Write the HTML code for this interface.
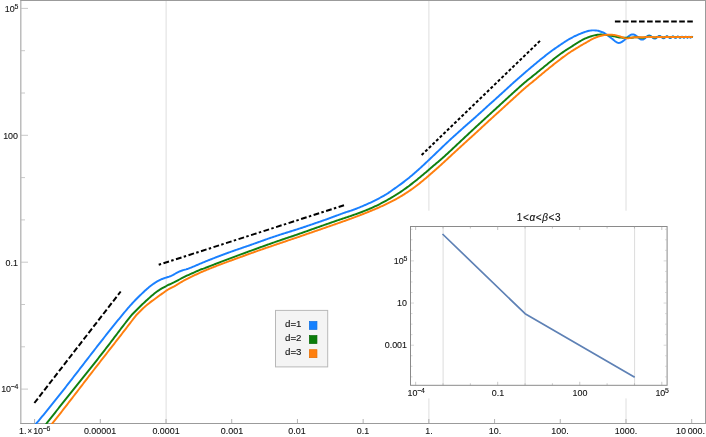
<!DOCTYPE html>
<html><head><meta charset="utf-8"><title>plot</title>
<style>
html,body{margin:0;padding:0;background:#fff;overflow:hidden;width:706px;height:437px;}
#w{position:absolute;left:0;top:0;width:706px;height:437px;overflow:hidden;}
body{width:706px;height:437px;position:relative;overflow:hidden;font-family:"Liberation Sans",sans-serif;color:#111;}
.t{position:absolute;-webkit-text-stroke:0.12px #111;white-space:nowrap;line-height:1;letter-spacing:0;}
.sup{font-size:78%;position:relative;top:-0.46em;margin-left:-0.3px;letter-spacing:-0.4px}
.x{font-size:88%;position:relative;top:-0.02em;margin:0 1.1px 0 1.3px}
i{font-family:"Liberation Sans",sans-serif;font-style:italic;}
</style></head><body><div id="w">
<svg width="706" height="437" viewBox="0 0 706 437" style="position:absolute;left:0;top:0">
<rect x="0" y="0" width="706" height="437" fill="#fff"/>
<line x1="166.1" y1="0" x2="166.1" y2="423" stroke="#dedede" stroke-width="1"/>
<line x1="428.9" y1="0" x2="428.9" y2="423" stroke="#dedede" stroke-width="1"/>
<line x1="626.0" y1="0" x2="626.0" y2="423" stroke="#dedede" stroke-width="1"/>
<line x1="20.85" y1="0" x2="20.85" y2="424" stroke="#9b9b9b" stroke-width="1"/>
<line x1="20.35" y1="423.5" x2="706" y2="423.5" stroke="#9b9b9b" stroke-width="1"/>
<line x1="20.35" y1="0.5" x2="706" y2="0.5" stroke="#9b9b9b" stroke-width="1"/>
<line x1="705.5" y1="0" x2="705.5" y2="424" stroke="#9b9b9b" stroke-width="1"/>
<line x1="21.3" y1="389.10" x2="28" y2="389.10" stroke="#9b9b9b" stroke-width="0.55"/>
<line x1="21.3" y1="346.80" x2="25" y2="346.80" stroke="#9b9b9b" stroke-width="0.55"/>
<line x1="21.3" y1="304.50" x2="25" y2="304.50" stroke="#9b9b9b" stroke-width="0.55"/>
<line x1="21.3" y1="262.20" x2="28" y2="262.20" stroke="#9b9b9b" stroke-width="0.55"/>
<line x1="21.3" y1="219.90" x2="25" y2="219.90" stroke="#9b9b9b" stroke-width="0.55"/>
<line x1="21.3" y1="177.60" x2="25" y2="177.60" stroke="#9b9b9b" stroke-width="0.55"/>
<line x1="21.3" y1="135.30" x2="28" y2="135.30" stroke="#9b9b9b" stroke-width="0.55"/>
<line x1="21.3" y1="93.00" x2="25" y2="93.00" stroke="#9b9b9b" stroke-width="0.55"/>
<line x1="21.3" y1="50.70" x2="25" y2="50.70" stroke="#9b9b9b" stroke-width="0.55"/>
<line x1="21.3" y1="8.40" x2="28" y2="8.40" stroke="#9b9b9b" stroke-width="0.55"/>
<line x1="34.60" y1="423" x2="34.60" y2="419" stroke="#909090" stroke-width="0.7"/>
<line x1="100.31" y1="423" x2="100.31" y2="419" stroke="#909090" stroke-width="0.7"/>
<line x1="166.02" y1="423" x2="166.02" y2="419" stroke="#909090" stroke-width="0.7"/>
<line x1="231.73" y1="423" x2="231.73" y2="419" stroke="#909090" stroke-width="0.7"/>
<line x1="297.44" y1="423" x2="297.44" y2="419" stroke="#909090" stroke-width="0.7"/>
<line x1="363.15" y1="423" x2="363.15" y2="419" stroke="#909090" stroke-width="0.7"/>
<line x1="428.86" y1="423" x2="428.86" y2="419" stroke="#909090" stroke-width="0.7"/>
<line x1="494.57" y1="423" x2="494.57" y2="419" stroke="#909090" stroke-width="0.7"/>
<line x1="560.28" y1="423" x2="560.28" y2="419" stroke="#909090" stroke-width="0.7"/>
<line x1="625.99" y1="423" x2="625.99" y2="419" stroke="#909090" stroke-width="0.7"/>
<line x1="691.70" y1="423" x2="691.70" y2="419" stroke="#909090" stroke-width="0.7"/>
<clipPath id="c"><rect x="21" y="0" width="684" height="424"/></clipPath>
<g clip-path="url(#c)" fill="none" stroke-linejoin="round">
<path d="M35.15,424.82 L36.15,423.65 L37.15,422.47 L38.15,421.28 L39.15,420.09 L40.15,418.89 L41.15,417.69 L42.15,416.49 L43.15,415.28 L44.15,414.07 L45.15,412.85 L46.15,411.63 L47.15,410.40 L48.15,409.17 L49.15,407.94 L50.15,406.70 L51.15,405.46 L52.15,404.22 L53.15,402.97 L54.15,401.72 L55.15,400.47 L56.15,399.21 L57.15,397.95 L58.15,396.69 L59.15,395.42 L60.15,394.15 L61.15,392.88 L62.15,391.61 L63.15,390.34 L64.15,389.06 L65.15,387.78 L66.15,386.50 L67.15,385.22 L68.15,383.94 L69.15,382.65 L70.15,381.36 L71.15,380.07 L72.15,378.78 L73.15,377.49 L74.15,376.20 L75.15,374.91 L76.15,373.61 L77.15,372.32 L78.15,371.03 L79.15,369.73 L80.15,368.43 L81.15,367.14 L82.15,365.84 L83.15,364.55 L84.15,363.25 L85.15,361.95 L86.15,360.66 L87.15,359.36 L88.15,358.07 L89.15,356.77 L90.15,355.48 L91.15,354.19 L92.15,352.89 L93.15,351.60 L94.15,350.31 L95.15,349.02 L96.15,347.74 L97.15,346.45 L98.15,345.17 L99.15,343.89 L100.15,342.61 L101.15,341.33 L102.15,340.05 L103.15,338.78 L104.15,337.50 L105.15,336.23 L106.15,334.97 L107.15,333.70 L108.15,332.44 L109.15,331.18 L110.15,329.92 L111.15,328.67 L112.15,327.42 L113.15,326.17 L114.15,324.93 L115.15,323.69 L116.15,322.45 L117.15,321.22 L118.15,319.99 L119.15,318.77 L120.15,317.54 L121.15,316.33 L122.15,315.11 L123.15,313.91 L124.15,312.70 L125.15,311.50 L126.15,310.31 L127.15,309.12 L128.15,307.94 L129.15,306.82 L130.15,305.71 L131.15,304.61 L132.15,303.52 L133.15,302.43 L134.15,301.36 L135.15,300.29 L136.15,299.24 L137.15,298.20 L138.15,297.19 L139.15,296.22 L140.15,295.27 L141.15,294.34 L142.15,293.41 L143.15,292.47 L144.15,291.52 L145.15,290.58 L146.15,289.66 L147.15,288.76 L148.15,287.90 L149.15,287.08 L150.15,286.30 L151.15,285.55 L152.15,284.81 L153.15,284.08 L154.15,283.37 L155.15,282.68 L156.15,282.04 L157.15,281.45 L158.15,280.92 L159.15,280.40 L160.15,279.90 L161.15,279.43 L162.15,278.98 L163.15,278.58 L164.15,278.22 L165.15,277.90 L166.15,277.60 L167.15,277.29 L168.15,276.97 L169.15,276.63 L170.15,276.24 L171.15,275.81 L172.15,275.35 L173.15,274.84 L174.15,274.30 L175.15,273.76 L176.15,273.22 L177.15,272.68 L178.15,272.17 L179.15,271.68 L180.15,271.23 L181.15,270.82 L182.15,270.46 L183.15,270.15 L184.15,269.88 L185.15,269.62 L186.15,269.34 L187.15,269.03 L188.15,268.70 L189.15,268.33 L190.15,267.95 L191.15,267.55 L192.15,267.14 L193.15,266.72 L194.15,266.29 L195.15,265.85 L196.15,265.41 L197.15,264.98 L198.15,264.55 L199.15,264.12 L200.15,263.70 L201.15,263.28 L202.15,262.86 L203.15,262.45 L204.15,262.04 L205.15,261.63 L206.15,261.22 L207.15,260.82 L208.15,260.42 L209.15,260.02 L210.15,259.62 L211.15,259.23 L212.15,258.83 L213.15,258.44 L214.15,258.05 L215.15,257.67 L216.15,257.28 L217.15,256.90 L218.15,256.51 L219.15,256.13 L220.15,255.75 L221.15,255.38 L222.15,255.00 L223.15,254.63 L224.15,254.25 L225.15,253.88 L226.15,253.51 L227.15,253.14 L228.15,252.78 L229.15,252.41 L230.15,252.05 L231.15,251.69 L232.15,251.34 L233.15,250.99 L234.15,250.64 L235.15,250.29 L236.15,249.94 L237.15,249.59 L238.15,249.25 L239.15,248.91 L240.15,248.56 L241.15,248.22 L242.15,247.88 L243.15,247.54 L244.15,247.19 L245.15,246.85 L246.15,246.51 L247.15,246.16 L248.15,245.82 L249.15,245.47 L250.15,245.12 L251.15,244.77 L252.15,244.41 L253.15,244.06 L254.15,243.70 L255.15,243.34 L256.15,242.98 L257.15,242.62 L258.15,242.26 L259.15,241.91 L260.15,241.55 L261.15,241.19 L262.15,240.83 L263.15,240.47 L264.15,240.12 L265.15,239.76 L266.15,239.41 L267.15,239.05 L268.15,238.70 L269.15,238.35 L270.15,238.00 L271.15,237.66 L272.15,237.32 L273.15,236.98 L274.15,236.64 L275.15,236.30 L276.15,235.97 L277.15,235.64 L278.15,235.32 L279.15,234.99 L280.15,234.67 L281.15,234.35 L282.15,234.03 L283.15,233.71 L284.15,233.40 L285.15,233.09 L286.15,232.77 L287.15,232.46 L288.15,232.15 L289.15,231.84 L290.15,231.52 L291.15,231.21 L292.15,230.90 L293.15,230.59 L294.15,230.28 L295.15,229.96 L296.15,229.65 L297.15,229.33 L298.15,229.01 L299.15,228.69 L300.15,228.36 L301.15,228.04 L302.15,227.71 L303.15,227.38 L304.15,227.04 L305.15,226.71 L306.15,226.37 L307.15,226.03 L308.15,225.69 L309.15,225.35 L310.15,225.00 L311.15,224.66 L312.15,224.32 L313.15,223.97 L314.15,223.63 L315.15,223.29 L316.15,222.94 L317.15,222.60 L318.15,222.25 L319.15,221.91 L320.15,221.57 L321.15,221.23 L322.15,220.88 L323.15,220.53 L324.15,220.18 L325.15,219.82 L326.15,219.46 L327.15,219.10 L328.15,218.73 L329.15,218.37 L330.15,218.00 L331.15,217.63 L332.15,217.27 L333.15,216.89 L334.15,216.52 L335.15,216.15 L336.15,215.78 L337.15,215.41 L338.15,215.04 L339.15,214.67 L340.15,214.30 L341.15,213.93 L342.15,213.56 L343.15,213.20 L344.15,212.83 L345.15,212.48 L346.15,212.15 L347.15,211.83 L348.15,211.52 L349.15,211.21 L350.15,210.89 L351.15,210.56 L352.15,210.21 L353.15,209.85 L354.15,209.48 L355.15,209.10 L356.15,208.72 L357.15,208.33 L358.15,207.94 L359.15,207.54 L360.15,207.14 L361.15,206.72 L362.15,206.31 L363.15,205.88 L364.15,205.45 L365.15,205.02 L366.15,204.58 L367.15,204.13 L368.15,203.68 L369.15,203.23 L370.15,202.76 L371.15,202.29 L372.15,201.82 L373.15,201.34 L374.15,200.85 L375.15,200.35 L376.15,199.85 L377.15,199.34 L378.15,198.82 L379.15,198.29 L380.15,197.75 L381.15,197.21 L382.15,196.66 L383.15,196.10 L384.15,195.53 L385.15,194.95 L386.15,194.36 L387.15,193.73 L388.15,193.08 L389.15,192.39 L390.15,191.69 L391.15,190.97 L392.15,190.25 L393.15,189.54 L394.15,188.84 L395.15,188.15 L396.15,187.45 L397.15,186.75 L398.15,186.03 L399.15,185.31 L400.15,184.59 L401.15,183.85 L402.15,183.11 L403.15,182.36 L404.15,181.60 L405.15,180.83 L406.15,180.05 L407.15,179.26 L408.15,178.46 L409.15,177.65 L410.15,176.84 L411.15,176.01 L412.15,175.17 L413.15,174.32 L414.15,173.46 L415.15,172.59 L416.15,171.71 L417.15,170.82 L418.15,169.92 L419.15,169.02 L420.15,168.11 L421.15,167.19 L422.15,166.27 L423.15,165.35 L424.15,164.42 L425.15,163.48 L426.15,162.54 L427.15,161.60 L428.15,160.66 L429.15,159.71 L430.15,158.76 L431.15,157.81 L432.15,156.86 L433.15,155.90 L434.15,154.94 L435.15,153.98 L436.15,153.02 L437.15,152.06 L438.15,151.10 L439.15,150.14 L440.15,149.18 L441.15,148.22 L442.15,147.26 L443.15,146.31 L444.15,145.36 L445.15,144.41 L446.15,143.47 L447.15,142.52 L448.15,141.59 L449.15,140.65 L450.15,139.73 L451.15,138.80 L452.15,137.89 L453.15,136.97 L454.15,136.06 L455.15,135.16 L456.15,134.25 L457.15,133.35 L458.15,132.45 L459.15,131.55 L460.15,130.66 L461.15,129.77 L462.15,128.88 L463.15,127.99 L464.15,127.10 L465.15,126.21 L466.15,125.33 L467.15,124.44 L468.15,123.56 L469.15,122.68 L470.15,121.80 L471.15,120.92 L472.15,120.04 L473.15,119.16 L474.15,118.28 L475.15,117.40 L476.15,116.52 L477.15,115.63 L478.15,114.73 L479.15,113.83 L480.15,112.92 L481.15,112.01 L482.15,111.10 L483.15,110.18 L484.15,109.26 L485.15,108.35 L486.15,107.43 L487.15,106.53 L488.15,105.62 L489.15,104.73 L490.15,103.84 L491.15,102.95 L492.15,102.06 L493.15,101.16 L494.15,100.27 L495.15,99.37 L496.15,98.47 L497.15,97.57 L498.15,96.66 L499.15,95.75 L500.15,94.84 L501.15,93.93 L502.15,93.02 L503.15,92.11 L504.15,91.19 L505.15,90.28 L506.15,89.36 L507.15,88.45 L508.15,87.53 L509.15,86.61 L510.15,85.69 L511.15,84.78 L512.15,83.87 L513.15,82.97 L514.15,82.07 L515.15,81.18 L516.15,80.29 L517.15,79.40 L518.15,78.52 L519.15,77.65 L520.15,76.77 L521.15,75.90 L522.15,75.04 L523.15,74.17 L524.15,73.31 L525.15,72.45 L526.15,71.59 L527.15,70.73 L528.15,69.88 L529.15,69.02 L530.15,68.17 L531.15,67.32 L532.15,66.47 L533.15,65.63 L534.15,64.79 L535.15,63.96 L536.15,63.13 L537.15,62.30 L538.15,61.48 L539.15,60.66 L540.15,59.85 L541.15,59.05 L542.15,58.25 L543.15,57.45 L544.15,56.66 L545.15,55.87 L546.15,55.09 L547.15,54.32 L548.15,53.55 L549.15,52.79 L550.15,52.03 L551.15,51.29 L552.15,50.55 L553.15,49.83 L554.15,49.11 L555.15,48.40 L556.15,47.70 L557.15,47.00 L558.15,46.32 L559.15,45.64 L560.15,44.96 L561.15,44.29 L562.15,43.62 L563.15,42.96 L564.15,42.30 L565.15,41.65 L566.15,41.02 L567.15,40.40 L568.15,39.79 L569.15,39.20 L570.15,38.62 L571.15,38.06 L572.15,37.52 L573.15,37.00 L574.15,36.49 L575.15,36.00 L576.15,35.53 L577.15,35.08 L578.15,34.65 L579.15,34.22 L580.15,33.79 L581.15,33.37 L582.15,32.97 L583.15,32.59 L584.15,32.24 L585.15,31.91 L586.15,31.60 L587.15,31.31 L588.15,31.04 L589.15,30.81 L590.15,30.61 L591.15,30.47 L592.15,30.38 L593.15,30.36 L594.15,30.38 L595.15,30.43 L596.15,30.52 L597.15,30.64 L598.10,30.76 L603.80,32.71 L604.05,32.87 L604.30,33.03 L604.55,33.19 L604.80,33.36 L605.05,33.53 L605.30,33.71 L605.55,33.89 L605.80,34.07 L606.05,34.24 L606.30,34.42 L606.55,34.59 L606.80,34.77 L607.05,34.94 L607.30,35.12 L607.55,35.30 L607.80,35.48 L608.05,35.67 L608.30,35.86 L608.55,36.05 L608.80,36.25 L609.05,36.44 L609.30,36.63 L609.55,36.82 L609.80,37.01 L610.05,37.20 L610.30,37.38 L610.55,37.57 L610.80,37.75 L611.05,37.94 L611.30,38.12 L611.55,38.30 L611.80,38.49 L612.05,38.67 L612.30,38.87 L612.55,39.07 L612.80,39.28 L613.05,39.49 L613.30,39.71 L613.55,39.93 L613.80,40.15 L614.05,40.37 L614.30,40.58 L614.55,40.78 L614.80,40.98 L615.05,41.17 L615.30,41.35 L615.55,41.51 L615.80,41.68 L616.05,41.84 L616.30,41.99 L616.55,42.15 L616.80,42.29 L617.05,42.43 L617.30,42.56 L617.55,42.67 L617.80,42.76 L618.05,42.84 L618.30,42.90 L618.55,42.93 L618.80,42.94 L619.05,42.93 L619.30,42.89 L619.55,42.85 L619.80,42.79 L620.05,42.71 L620.30,42.63 L620.55,42.53 L620.80,42.43 L621.05,42.31 L621.30,42.18 L621.55,42.04 L621.80,41.89 L622.05,41.74 L622.30,41.57 L622.55,41.40 L622.80,41.23 L623.05,41.04 L623.30,40.85 L623.55,40.66 L623.80,40.46 L624.05,40.26 L624.30,40.06 L624.55,39.85 L624.80,39.63 L625.05,39.42 L625.30,39.20 L625.55,38.97 L625.80,38.75 L626.05,38.52 L626.30,38.29 L626.55,38.06 L626.80,37.83 L627.05,37.60 L627.30,37.38 L627.55,37.16 L627.80,36.94 L628.05,36.72 L628.30,36.51 L628.55,36.31 L628.80,36.11 L629.05,35.92 L629.30,35.74 L629.55,35.56 L629.80,35.40 L630.05,35.24 L630.30,35.10 L630.55,34.97 L630.80,34.85 L631.05,34.74 L631.30,34.65 L631.55,34.57 L631.80,34.51 L632.05,34.46 L632.30,34.42 L632.55,34.40 L632.80,34.40 L633.05,34.41 L633.30,34.44 L633.55,34.48 L633.80,34.54 L634.05,34.62 L634.30,34.71 L634.55,34.81 L634.80,34.93 L635.05,35.07 L635.30,35.21 L635.55,35.37 L635.80,35.55 L636.05,35.73 L636.30,35.92 L636.55,36.12 L636.80,36.33 L637.05,36.54 L637.30,36.76 L637.55,36.98 L637.80,37.20 L638.05,37.42 L638.30,37.64 L638.55,37.86 L638.80,38.07 L639.05,38.27 L639.30,38.47 L639.55,38.65 L639.80,38.83 L640.05,38.99 L640.30,39.13 L640.55,39.26 L640.80,39.38 L641.05,39.47 L641.30,39.55 L641.55,39.60 L641.80,39.63 L642.05,39.64 L642.30,39.63 L642.55,39.60 L642.80,39.54 L643.05,39.47 L643.30,39.37 L643.55,39.25 L643.80,39.11 L644.05,38.95 L644.30,38.78 L644.55,38.59 L644.80,38.39 L645.05,38.18 L645.30,37.96 L645.55,37.74 L645.80,37.51 L646.05,37.28 L646.30,37.05 L646.55,36.83 L646.80,36.62 L647.05,36.42 L647.30,36.23 L647.55,36.06 L647.80,35.91 L648.05,35.78 L648.30,35.68 L648.55,35.60 L648.80,35.54 L649.05,35.51 L649.30,35.51 L649.55,35.54 L649.80,35.60 L650.05,35.68 L650.30,35.79 L650.55,35.93 L650.80,36.08 L651.05,36.26 L651.30,36.45 L651.55,36.65 L651.80,36.86 L652.05,37.08 L652.30,37.31 L652.55,37.52 L652.80,37.74 L653.05,37.93 L653.30,38.11 L653.55,38.27 L653.80,38.41 L654.05,38.51 L654.30,38.59 L654.55,38.63 L654.80,38.64 L655.05,38.62 L655.30,38.56 L655.55,38.47 L655.80,38.34 L656.05,38.19 L656.30,38.02 L656.55,37.82 L656.80,37.61 L657.05,37.39 L657.30,37.17 L657.55,36.95 L657.80,36.74 L658.05,36.54 L658.30,36.37 L658.55,36.22 L658.80,36.10 L659.05,36.02 L659.30,35.98 L659.55,35.98 L659.80,36.02 L660.05,36.09 L660.30,36.21 L660.55,36.36 L660.80,36.54 L661.05,36.74 L661.30,36.95 L661.55,37.17 L661.80,37.39 L662.05,37.61 L662.30,37.80 L662.55,37.97 L662.80,38.10 L663.05,38.20 L663.30,38.25 L663.55,38.26 L663.80,38.22 L664.05,38.14 L664.30,38.01 L664.55,37.85 L664.80,37.66 L665.05,37.45 L665.30,37.23 L665.55,37.00 L665.80,36.79 L666.05,36.61 L666.30,36.45 L666.55,36.34 L666.80,36.27 L667.05,36.26 L667.30,36.30 L667.55,36.39 L667.80,36.52 L668.05,36.70 L668.30,36.90 L668.55,37.12 L668.80,37.34 L669.05,37.55 L669.30,37.74 L669.55,37.89 L669.80,37.99 L670.05,38.04 L670.30,38.03 L670.55,37.96 L670.80,37.84 L671.05,37.67 L671.30,37.47 L671.55,37.25 L671.80,37.03 L672.05,36.83 L672.30,36.65 L672.55,36.52 L672.80,36.45 L673.05,36.44 L673.30,36.50 L673.55,36.61 L673.80,36.78 L674.05,36.98 L674.30,37.20 L674.55,37.42 L674.80,37.62 L675.05,37.77 L675.30,37.87 L675.55,37.90 L675.80,37.86 L676.05,37.75 L676.30,37.59 L676.55,37.38 L676.80,37.16 L677.05,36.95 L677.30,36.76 L677.55,36.63 L677.80,36.56 L678.05,36.57 L678.30,36.66 L678.55,36.81 L678.80,37.01 L679.05,37.23 L679.30,37.44 L679.55,37.62 L679.80,37.75 L680.05,37.80 L680.30,37.76 L680.55,37.65 L680.80,37.47 L681.05,37.26 L681.30,37.04 L681.55,36.84 L681.80,36.71 L682.05,36.65 L682.30,36.67 L682.55,36.79 L682.80,36.97 L683.05,37.18 L683.30,37.40 L683.55,37.58 L683.80,37.69 L684.05,37.72 L684.30,37.65 L684.55,37.49 L684.80,37.29 L685.05,37.07 L685.30,36.87 L685.55,36.75 L685.80,36.71 L686.05,36.78 L686.30,36.93 L686.55,37.14 L686.80,37.36 L687.05,37.54 L687.30,37.65 L687.55,37.65 L687.80,37.55 L688.05,37.36 L688.30,37.14 L688.55,36.94 L688.80,36.80 L689.05,36.77 L689.30,36.84 L689.55,37.01 L689.80,37.23 L690.05,37.43 L690.30,37.58 L690.55,37.61 L690.80,37.53 L691.05,37.35 L691.30,37.13 L691.55,36.94 L691.80,36.82 L692.05,36.82 L692.30,36.94 L692.55,37.15 L692.80,37.36" stroke="#1a80ff" stroke-width="1.95"/>
<path d="M45.35,425.01 L46.35,423.73 L47.35,422.45 L48.35,421.17 L49.35,419.89 L50.35,418.62 L51.35,417.35 L52.35,416.08 L53.35,414.81 L54.35,413.54 L55.35,412.28 L56.35,411.01 L57.35,409.75 L58.35,408.49 L59.35,407.23 L60.35,405.98 L61.35,404.72 L62.35,403.47 L63.35,402.21 L64.35,400.96 L65.35,399.71 L66.35,398.46 L67.35,397.20 L68.35,395.95 L69.35,394.70 L70.35,393.46 L71.35,392.21 L72.35,390.96 L73.35,389.71 L74.35,388.46 L75.35,387.21 L76.35,385.96 L77.35,384.71 L78.35,383.46 L79.35,382.21 L80.35,380.96 L81.35,379.71 L82.35,378.46 L83.35,377.21 L84.35,375.95 L85.35,374.70 L86.35,373.44 L87.35,372.18 L88.35,370.93 L89.35,369.67 L90.35,368.41 L91.35,367.14 L92.35,365.88 L93.35,364.61 L94.35,363.34 L95.35,362.07 L96.35,360.80 L97.35,359.53 L98.35,358.25 L99.35,356.97 L100.35,355.69 L101.35,354.41 L102.35,353.12 L103.35,351.84 L104.35,350.54 L105.35,349.25 L106.35,347.95 L107.35,346.65 L108.35,345.35 L109.35,344.04 L110.35,342.73 L111.35,341.42 L112.35,340.11 L113.35,338.79 L114.35,337.46 L115.35,336.14 L116.35,334.81 L117.35,333.49 L118.35,332.16 L119.35,330.84 L120.35,329.52 L121.35,328.20 L122.35,326.89 L123.35,325.58 L124.35,324.28 L125.35,322.99 L126.35,321.70 L127.35,320.42 L128.35,319.15 L129.35,317.89 L130.35,316.65 L131.35,315.41 L132.35,314.26 L133.35,313.25 L134.35,312.24 L135.35,311.23 L136.35,310.23 L137.35,309.24 L138.35,308.24 L139.35,307.26 L140.35,306.27 L141.35,305.29 L142.35,304.32 L143.35,303.36 L144.35,302.43 L145.35,301.51 L146.35,300.59 L147.35,299.68 L148.35,298.77 L149.35,297.87 L150.35,296.97 L151.35,296.10 L152.35,295.24 L153.35,294.41 L154.35,293.61 L155.35,292.84 L156.35,292.07 L157.35,291.33 L158.35,290.62 L159.35,289.94 L160.35,289.30 L161.35,288.71 L162.35,288.14 L163.35,287.59 L164.35,287.05 L165.35,286.52 L166.35,286.00 L167.35,285.48 L168.35,284.98 L169.35,284.50 L170.35,284.05 L171.35,283.61 L172.35,283.17 L173.35,282.71 L174.35,282.23 L175.35,281.71 L176.35,281.17 L177.35,280.62 L178.35,280.07 L179.35,279.52 L180.35,278.99 L181.35,278.47 L182.35,277.95 L183.35,277.44 L184.35,276.93 L185.35,276.43 L186.35,275.95 L187.35,275.48 L188.35,275.02 L189.35,274.57 L190.35,274.13 L191.35,273.69 L192.35,273.25 L193.35,272.81 L194.35,272.37 L195.35,271.92 L196.35,271.46 L197.35,271.00 L198.35,270.54 L199.35,270.09 L200.35,269.65 L201.35,269.24 L202.35,268.94 L203.35,268.67 L204.35,268.30 L205.35,267.91 L206.35,267.52 L207.35,267.12 L208.35,266.73 L209.35,266.34 L210.35,265.95 L211.35,265.56 L212.35,265.17 L213.35,264.79 L214.35,264.40 L215.35,264.01 L216.35,263.63 L217.35,263.24 L218.35,262.86 L219.35,262.48 L220.35,262.09 L221.35,261.71 L222.35,261.33 L223.35,260.95 L224.35,260.57 L225.35,260.19 L226.35,259.81 L227.35,259.44 L228.35,259.06 L229.35,258.68 L230.35,258.31 L231.35,257.93 L232.35,257.56 L233.35,257.18 L234.35,256.81 L235.35,256.44 L236.35,256.07 L237.35,255.69 L238.35,255.32 L239.35,254.95 L240.35,254.58 L241.35,254.21 L242.35,253.84 L243.35,253.48 L244.35,253.11 L245.35,252.74 L246.35,252.37 L247.35,252.01 L248.35,251.64 L249.35,251.28 L250.35,250.91 L251.35,250.55 L252.35,250.18 L253.35,249.82 L254.35,249.46 L255.35,249.10 L256.35,248.73 L257.35,248.37 L258.35,248.01 L259.35,247.65 L260.35,247.29 L261.35,246.93 L262.35,246.58 L263.35,246.22 L264.35,245.86 L265.35,245.50 L266.35,245.15 L267.35,244.79 L268.35,244.43 L269.35,244.08 L270.35,243.72 L271.35,243.36 L272.35,243.01 L273.35,242.65 L274.35,242.30 L275.35,241.95 L276.35,241.59 L277.35,241.25 L278.35,240.90 L279.35,240.56 L280.35,240.22 L281.35,239.88 L282.35,239.54 L283.35,239.21 L284.35,238.87 L285.35,238.54 L286.35,238.20 L287.35,237.87 L288.35,237.54 L289.35,237.20 L290.35,236.87 L291.35,236.53 L292.35,236.20 L293.35,235.86 L294.35,235.52 L295.35,235.18 L296.35,234.83 L297.35,234.48 L298.35,234.13 L299.35,233.78 L300.35,233.43 L301.35,233.08 L302.35,232.73 L303.35,232.37 L304.35,232.02 L305.35,231.67 L306.35,231.31 L307.35,230.96 L308.35,230.61 L309.35,230.25 L310.35,229.90 L311.35,229.54 L312.35,229.19 L313.35,228.83 L314.35,228.48 L315.35,228.13 L316.35,227.77 L317.35,227.42 L318.35,227.07 L319.35,226.71 L320.35,226.36 L321.35,226.01 L322.35,225.65 L323.35,225.30 L324.35,224.95 L325.35,224.60 L326.35,224.25 L327.35,223.90 L328.35,223.55 L329.35,223.21 L330.35,222.86 L331.35,222.51 L332.35,222.17 L333.35,221.82 L334.35,221.48 L335.35,221.14 L336.35,220.79 L337.35,220.45 L338.35,220.11 L339.35,219.77 L340.35,219.44 L341.35,219.10 L342.35,218.77 L343.35,218.43 L344.35,218.10 L345.35,217.77 L346.35,217.43 L347.35,217.09 L348.35,216.75 L349.35,216.41 L350.35,216.07 L351.35,215.72 L352.35,215.38 L353.35,215.03 L354.35,214.68 L355.35,214.32 L356.35,213.97 L357.35,213.61 L358.35,213.24 L359.35,212.87 L360.35,212.50 L361.35,212.12 L362.35,211.74 L363.35,211.35 L364.35,210.96 L365.35,210.56 L366.35,210.16 L367.35,209.75 L368.35,209.34 L369.35,208.92 L370.35,208.49 L371.35,208.06 L372.35,207.62 L373.35,207.17 L374.35,206.71 L375.35,206.24 L376.35,205.76 L377.35,205.27 L378.35,204.77 L379.35,204.27 L380.35,203.75 L381.35,203.23 L382.35,202.71 L383.35,202.17 L384.35,201.63 L385.35,201.09 L386.35,200.54 L387.35,199.98 L388.35,199.43 L389.35,198.86 L390.35,198.29 L391.35,197.71 L392.35,197.12 L393.35,196.52 L394.35,195.91 L395.35,195.29 L396.35,194.67 L397.35,194.04 L398.35,193.39 L399.35,192.74 L400.35,192.07 L401.35,191.40 L402.35,190.72 L403.35,190.02 L404.35,189.32 L405.35,188.60 L406.35,187.88 L407.35,187.15 L408.35,186.41 L409.35,185.66 L410.35,184.90 L411.35,184.14 L412.35,183.36 L413.35,182.58 L414.35,181.80 L415.35,181.00 L416.35,180.20 L417.35,179.40 L418.35,178.59 L419.35,177.77 L420.35,176.94 L421.35,176.11 L422.35,175.28 L423.35,174.44 L424.35,173.60 L425.35,172.75 L426.35,171.90 L427.35,171.04 L428.35,170.18 L429.35,169.32 L430.35,168.45 L431.35,167.58 L432.35,166.71 L433.35,165.84 L434.35,164.99 L435.35,164.15 L436.35,163.30 L437.35,162.47 L438.35,161.63 L439.35,160.78 L440.35,159.93 L441.35,159.08 L442.35,158.21 L443.35,157.32 L444.35,156.42 L445.35,155.51 L446.35,154.58 L447.35,153.66 L448.35,152.73 L449.35,151.80 L450.35,150.87 L451.35,149.94 L452.35,149.01 L453.35,148.07 L454.35,147.14 L455.35,146.20 L456.35,145.26 L457.35,144.33 L458.35,143.39 L459.35,142.45 L460.35,141.51 L461.35,140.58 L462.35,139.64 L463.35,138.70 L464.35,137.76 L465.35,136.82 L466.35,135.88 L467.35,134.95 L468.35,134.01 L469.35,133.07 L470.35,132.14 L471.35,131.20 L472.35,130.27 L473.35,129.34 L474.35,128.41 L475.35,127.48 L476.35,126.55 L477.35,125.63 L478.35,124.70 L479.35,123.78 L480.35,122.86 L481.35,121.94 L482.35,121.02 L483.35,120.10 L484.35,119.19 L485.35,118.27 L486.35,117.36 L487.35,116.45 L488.35,115.54 L489.35,114.63 L490.35,113.72 L491.35,112.81 L492.35,111.90 L493.35,110.99 L494.35,110.08 L495.35,109.16 L496.35,108.24 L497.35,107.33 L498.35,106.41 L499.35,105.49 L500.35,104.57 L501.35,103.64 L502.35,102.72 L503.35,101.80 L504.35,100.88 L505.35,99.96 L506.35,99.04 L507.35,98.12 L508.35,97.21 L509.35,96.29 L510.35,95.38 L511.35,94.46 L512.35,93.55 L513.35,92.64 L514.35,91.73 L515.35,90.83 L516.35,89.93 L517.35,89.03 L518.35,88.13 L519.35,87.24 L520.35,86.35 L521.35,85.46 L522.35,84.58 L523.35,83.70 L524.35,82.82 L525.35,81.97 L526.35,81.14 L527.35,80.32 L528.35,79.51 L529.35,78.72 L530.35,77.93 L531.35,77.15 L532.35,76.36 L533.35,75.57 L534.35,74.77 L535.35,73.96 L536.35,73.14 L537.35,72.32 L538.35,71.51 L539.35,70.69 L540.35,69.87 L541.35,69.05 L542.35,68.22 L543.35,67.41 L544.35,66.59 L545.35,65.77 L546.35,64.96 L547.35,64.15 L548.35,63.34 L549.35,62.54 L550.35,61.74 L551.35,60.95 L552.35,60.16 L553.35,59.37 L554.35,58.59 L555.35,57.82 L556.35,57.05 L557.35,56.29 L558.35,55.53 L559.35,54.79 L560.35,54.05 L561.35,53.33 L562.35,52.61 L563.35,51.91 L564.35,51.22 L565.35,50.54 L566.35,49.87 L567.35,49.22 L568.35,48.59 L569.35,47.99 L570.35,47.40 L571.35,46.76 L572.35,46.09 L573.35,45.43 L574.35,44.76 L575.35,44.11 L576.35,43.46 L577.35,42.84 L578.35,42.23 L579.35,41.64 L580.35,41.06 L581.35,40.50 L582.35,39.96 L583.35,39.44 L584.35,38.95 L585.35,38.48 L586.35,38.04 L587.35,37.63 L588.35,37.24 L589.35,36.88 L590.35,36.54 L591.35,36.22 L592.35,35.92 L593.35,35.65 L594.35,35.40 L595.35,35.18 L596.35,34.99 L597.35,34.83 L598.35,34.71 L599.35,34.63 L600.35,34.59 L601.35,34.58 L602.35,34.61 L603.35,34.67 L604.35,34.75 L605.35,34.85 L606.35,34.97 L607.35,35.10 L608.35,35.24 L609.35,35.39 L610.35,35.56 L611.35,35.75 L612.35,35.96 L613.35,36.18 L614.35,36.41 L615.35,36.65 L616.35,36.89 L617.35,37.12 L618.35,37.31 L619.35,37.42 L620.35,37.52 L621.35,37.60 L622.35,37.66 L623.35,37.72 L624.35,37.75 L625.35,37.78 L626.35,37.80 L627.35,37.80 L628.35,37.80 L629.35,37.80 L630.35,37.79 L631.35,37.77 L632.00,37.76 L632.25,37.71 L632.50,37.66 L632.75,37.62 L633.00,37.57 L633.25,37.52 L633.50,37.48 L633.75,37.44 L634.00,37.40 L634.25,37.36 L634.50,37.32 L634.75,37.29 L635.00,37.26 L635.25,37.24 L635.50,37.22 L635.75,37.20 L636.00,37.19 L636.25,37.19 L636.50,37.18 L636.75,37.19 L637.00,37.19 L637.25,37.21 L637.50,37.22 L637.75,37.24 L638.00,37.27 L638.25,37.30 L638.50,37.33 L638.75,37.36 L639.00,37.40 L639.25,37.44 L639.50,37.48 L639.75,37.52 L640.00,37.56 L640.25,37.60 L640.50,37.64 L640.75,37.67 L641.00,37.71 L641.25,37.74 L641.50,37.76 L641.75,37.78 L642.00,37.79 L642.25,37.79 L642.50,37.78 L642.75,37.76 L643.00,37.74 L643.25,37.71 L643.50,37.68 L643.75,37.63 L644.00,37.58 L644.25,37.53 L644.50,37.47 L644.75,37.41 L645.00,37.34 L645.25,37.27 L645.50,37.20 L645.75,37.12 L646.00,37.05 L646.25,36.97 L646.50,36.90 L646.75,36.83 L647.00,36.77 L647.25,36.71 L647.50,36.65 L647.75,36.60 L648.00,36.56 L648.25,36.53 L648.50,36.50 L648.75,36.48 L649.00,36.47 L649.25,36.47 L649.50,36.48 L649.75,36.50 L650.00,36.53 L650.25,36.56 L650.50,36.61 L650.75,36.66 L651.00,36.72 L651.25,36.78 L651.50,36.85 L651.75,36.92 L652.00,37.00 L652.25,37.07 L652.50,37.14 L652.75,37.21 L653.00,37.28 L653.25,37.34 L653.50,37.39 L653.75,37.44 L654.00,37.48 L654.25,37.50 L654.50,37.52 L654.75,37.53 L655.00,37.52 L655.25,37.50 L655.50,37.48 L655.75,37.44 L656.00,37.39 L656.25,37.33 L656.50,37.27 L656.75,37.20 L657.00,37.13 L657.25,37.05 L657.50,36.98 L657.75,36.91 L658.00,36.85 L658.25,36.79 L658.50,36.74 L658.75,36.69 L659.00,36.67 L659.25,36.65 L659.50,36.65 L659.75,36.66 L660.00,36.68 L660.25,36.71 L660.50,36.76 L660.75,36.82 L661.00,36.88 L661.25,36.95 L661.50,37.03 L661.75,37.10 L662.00,37.17 L662.25,37.24 L662.50,37.29 L662.75,37.34 L663.00,37.38 L663.25,37.40 L663.50,37.40 L663.75,37.39 L664.00,37.37 L664.25,37.33 L664.50,37.28 L664.75,37.21 L665.00,37.15 L665.25,37.07 L665.50,37.00 L665.75,36.93 L666.00,36.87 L666.25,36.81 L666.50,36.77 L666.75,36.75 L667.00,36.74 L667.25,36.75 L667.50,36.77 L667.75,36.82 L668.00,36.87 L668.25,36.94 L668.50,37.01 L668.75,37.08 L669.00,37.15 L669.25,37.22 L669.50,37.27 L669.75,37.31 L670.00,37.33 L670.25,37.33 L670.50,37.31 L670.75,37.27 L671.00,37.22 L671.25,37.15 L671.50,37.08 L671.75,37.01 L672.00,36.94 L672.25,36.88 L672.50,36.83 L672.75,36.81 L673.00,36.80 L673.25,36.81 L673.50,36.85 L673.75,36.90 L674.00,36.96 L674.25,37.04 L674.50,37.11 L674.75,37.18 L675.00,37.23 L675.25,37.27 L675.50,37.28 L675.75,37.27 L676.00,37.24 L676.25,37.19 L676.50,37.12 L676.75,37.05 L677.00,36.98 L677.25,36.92 L677.50,36.87 L677.75,36.84 L678.00,36.84 L678.25,36.86 L678.50,36.91 L678.75,36.97 L679.00,37.04 L679.25,37.12 L679.50,37.18 L679.75,37.22 L680.00,37.25 L680.25,37.24 L680.50,37.21 L680.75,37.15 L681.00,37.08 L681.25,37.01 L681.50,36.94 L681.75,36.89 L682.00,36.87 L682.25,36.87 L682.50,36.90 L682.75,36.96 L683.00,37.03 L683.25,37.10 L683.50,37.17 L683.75,37.21 L684.00,37.22 L684.25,37.20 L684.50,37.16 L684.75,37.09 L685.00,37.02 L685.25,36.95 L685.50,36.91 L685.75,36.89 L686.00,36.90 L686.25,36.95 L686.50,37.02 L686.75,37.09 L687.00,37.15 L687.25,37.19 L687.50,37.20 L687.75,37.17 L688.00,37.12 L688.25,37.05 L688.50,36.98 L688.75,36.93 L689.00,36.91 L689.25,36.92 L689.50,36.97 L689.75,37.04 L690.00,37.11 L690.25,37.17 L690.50,37.19 L690.75,37.17 L691.00,37.11 L691.25,37.04 L691.50,36.97 L691.75,36.93 L692.00,36.92 L692.25,36.95 L692.50,37.02 L692.75,37.09" stroke="#108010" stroke-width="1.95"/>
<path d="M51.15,424.99 L52.15,423.73 L53.15,422.47 L54.15,421.20 L55.15,419.93 L56.15,418.66 L57.15,417.39 L58.15,416.12 L59.15,414.84 L60.15,413.56 L61.15,412.28 L62.15,410.99 L63.15,409.71 L64.15,408.42 L65.15,407.13 L66.15,405.84 L67.15,404.55 L68.15,403.26 L69.15,401.96 L70.15,400.67 L71.15,399.37 L72.15,398.07 L73.15,396.77 L74.15,395.47 L75.15,394.17 L76.15,392.87 L77.15,391.57 L78.15,390.27 L79.15,388.97 L80.15,387.66 L81.15,386.36 L82.15,385.06 L83.15,383.76 L84.15,382.46 L85.15,381.16 L86.15,379.86 L87.15,378.56 L88.15,377.26 L89.15,375.96 L90.15,374.66 L91.15,373.36 L92.15,372.07 L93.15,370.77 L94.15,369.48 L95.15,368.19 L96.15,366.90 L97.15,365.61 L98.15,364.32 L99.15,363.03 L100.15,361.75 L101.15,360.46 L102.15,359.18 L103.15,357.90 L104.15,356.61 L105.15,355.33 L106.15,354.05 L107.15,352.76 L108.15,351.48 L109.15,350.20 L110.15,348.92 L111.15,347.63 L112.15,346.35 L113.15,345.07 L114.15,343.78 L115.15,342.50 L116.15,341.22 L117.15,339.93 L118.15,338.64 L119.15,337.36 L120.15,336.07 L121.15,334.78 L122.15,333.48 L123.15,332.19 L124.15,330.90 L125.15,329.60 L126.15,328.30 L127.15,327.00 L128.15,325.70 L129.15,324.40 L130.15,323.09 L131.15,321.78 L132.15,320.47 L133.15,319.16 L134.15,317.85 L135.15,316.55 L136.15,315.29 L137.15,314.26 L138.15,313.24 L139.15,312.23 L140.15,311.23 L141.15,310.24 L142.15,309.27 L143.15,308.32 L144.15,307.39 L145.15,306.49 L146.15,305.62 L147.15,304.77 L148.15,303.94 L149.15,303.14 L150.15,302.37 L151.15,301.63 L152.15,300.91 L153.15,300.21 L154.15,299.51 L155.15,298.81 L156.15,298.08 L157.15,297.33 L158.15,296.58 L159.15,295.83 L160.15,295.09 L161.15,294.37 L162.15,293.66 L163.15,292.92 L164.15,292.18 L165.15,291.45 L166.15,290.75 L167.15,290.10 L168.15,289.50 L169.15,288.96 L170.15,288.46 L171.15,287.97 L172.15,287.48 L173.15,286.98 L174.15,286.43 L175.15,285.84 L176.15,285.24 L177.15,284.61 L178.15,283.99 L179.15,283.36 L180.15,282.76 L181.15,282.18 L182.15,281.60 L183.15,281.02 L184.15,280.46 L185.15,279.90 L186.15,279.36 L187.15,278.84 L188.15,278.33 L189.15,277.84 L190.15,277.35 L191.15,276.87 L192.15,276.40 L193.15,275.93 L194.15,275.46 L195.15,274.98 L196.15,274.50 L197.15,274.01 L198.15,273.54 L199.15,273.07 L200.15,272.61 L201.15,272.17 L202.15,271.75 L203.15,271.32 L204.15,270.91 L205.15,270.49 L206.15,270.08 L207.15,269.67 L208.15,269.26 L209.15,268.85 L210.15,268.45 L211.15,268.05 L212.15,267.66 L213.15,267.26 L214.15,266.87 L215.15,266.48 L216.15,266.09 L217.15,265.71 L218.15,265.32 L219.15,264.94 L220.15,264.56 L221.15,264.18 L222.15,263.81 L223.15,263.43 L224.15,263.06 L225.15,262.69 L226.15,262.32 L227.15,261.94 L228.15,261.58 L229.15,261.21 L230.15,260.84 L231.15,260.47 L232.15,260.11 L233.15,259.74 L234.15,259.37 L235.15,259.01 L236.15,258.64 L237.15,258.28 L238.15,257.91 L239.15,257.55 L240.15,257.18 L241.15,256.82 L242.15,256.46 L243.15,256.09 L244.15,255.73 L245.15,255.37 L246.15,255.00 L247.15,254.64 L248.15,254.28 L249.15,253.92 L250.15,253.55 L251.15,253.19 L252.15,252.83 L253.15,252.47 L254.15,252.12 L255.15,251.76 L256.15,251.41 L257.15,251.05 L258.15,250.70 L259.15,250.36 L260.15,250.01 L261.15,249.66 L262.15,249.32 L263.15,248.97 L264.15,248.63 L265.15,248.28 L266.15,247.94 L267.15,247.60 L268.15,247.26 L269.15,246.92 L270.15,246.57 L271.15,246.23 L272.15,245.89 L273.15,245.55 L274.15,245.20 L275.15,244.86 L276.15,244.51 L277.15,244.17 L278.15,243.83 L279.15,243.49 L280.15,243.15 L281.15,242.81 L282.15,242.47 L283.15,242.14 L284.15,241.80 L285.15,241.46 L286.15,241.13 L287.15,240.79 L288.15,240.45 L289.15,240.11 L290.15,239.78 L291.15,239.44 L292.15,239.10 L293.15,238.76 L294.15,238.42 L295.15,238.08 L296.15,237.74 L297.15,237.40 L298.15,237.05 L299.15,236.71 L300.15,236.36 L301.15,236.02 L302.15,235.67 L303.15,235.33 L304.15,234.98 L305.15,234.63 L306.15,234.29 L307.15,233.94 L308.15,233.60 L309.15,233.25 L310.15,232.91 L311.15,232.56 L312.15,232.22 L313.15,231.87 L314.15,231.53 L315.15,231.18 L316.15,230.84 L317.15,230.49 L318.15,230.15 L319.15,229.80 L320.15,229.46 L321.15,229.11 L322.15,228.77 L323.15,228.42 L324.15,228.08 L325.15,227.73 L326.15,227.38 L327.15,227.04 L328.15,226.69 L329.15,226.34 L330.15,226.00 L331.15,225.65 L332.15,225.30 L333.15,224.95 L334.15,224.60 L335.15,224.25 L336.15,223.90 L337.15,223.55 L338.15,223.20 L339.15,222.85 L340.15,222.50 L341.15,222.14 L342.15,221.79 L343.15,221.43 L344.15,221.08 L345.15,220.72 L346.15,220.36 L347.15,220.00 L348.15,219.64 L349.15,219.28 L350.15,218.91 L351.15,218.55 L352.15,218.18 L353.15,217.81 L354.15,217.43 L355.15,217.06 L356.15,216.68 L357.15,216.30 L358.15,215.92 L359.15,215.54 L360.15,215.16 L361.15,214.77 L362.15,214.38 L363.15,213.99 L364.15,213.60 L365.15,213.20 L366.15,212.80 L367.15,212.40 L368.15,212.00 L369.15,211.59 L370.15,211.18 L371.15,210.77 L372.15,210.36 L373.15,209.94 L374.15,209.52 L375.15,209.09 L376.15,208.67 L377.15,208.24 L378.15,207.80 L379.15,207.36 L380.15,206.92 L381.15,206.47 L382.15,206.02 L383.15,205.57 L384.15,205.10 L385.15,204.64 L386.15,204.16 L387.15,203.68 L388.15,203.20 L389.15,202.71 L390.15,202.21 L391.15,201.70 L392.15,201.18 L393.15,200.66 L394.15,200.13 L395.15,199.59 L396.15,199.04 L397.15,198.48 L398.15,197.91 L399.15,197.34 L400.15,196.75 L401.15,196.16 L402.15,195.56 L403.15,194.94 L404.15,194.32 L405.15,193.69 L406.15,193.04 L407.15,192.39 L408.15,191.73 L409.15,191.05 L410.15,190.36 L411.15,189.67 L412.15,188.96 L413.15,188.24 L414.15,187.50 L415.15,186.76 L416.15,186.00 L417.15,185.24 L418.15,184.46 L419.15,183.68 L420.15,182.88 L421.15,182.07 L422.15,181.26 L423.15,180.44 L424.15,179.61 L425.15,178.77 L426.15,177.92 L427.15,177.07 L428.15,176.21 L429.15,175.34 L430.15,174.47 L431.15,173.59 L432.15,172.71 L433.15,171.83 L434.15,170.94 L435.15,170.06 L436.15,169.17 L437.15,168.29 L438.15,167.40 L439.15,166.51 L440.15,165.61 L441.15,164.71 L442.15,163.81 L443.15,162.89 L444.15,161.98 L445.15,161.05 L446.15,160.12 L447.15,159.19 L448.15,158.26 L449.15,157.33 L450.15,156.41 L451.15,155.48 L452.15,154.56 L453.15,153.63 L454.15,152.71 L455.15,151.79 L456.15,150.87 L457.15,149.95 L458.15,149.04 L459.15,148.12 L460.15,147.20 L461.15,146.29 L462.15,145.38 L463.15,144.46 L464.15,143.55 L465.15,142.64 L466.15,141.73 L467.15,140.82 L468.15,139.90 L469.15,138.99 L470.15,138.08 L471.15,137.18 L472.15,136.27 L473.15,135.36 L474.15,134.45 L475.15,133.54 L476.15,132.63 L477.15,131.71 L478.15,130.79 L479.15,129.87 L480.15,128.94 L481.15,128.01 L482.15,127.07 L483.15,126.14 L484.15,125.20 L485.15,124.27 L486.15,123.34 L487.15,122.42 L488.15,121.50 L489.15,120.58 L490.15,119.68 L491.15,118.78 L492.15,117.87 L493.15,116.97 L494.15,116.06 L495.15,115.15 L496.15,114.25 L497.15,113.34 L498.15,112.43 L499.15,111.52 L500.15,110.61 L501.15,109.70 L502.15,108.78 L503.15,107.87 L504.15,106.96 L505.15,106.05 L506.15,105.13 L507.15,104.22 L508.15,103.31 L509.15,102.40 L510.15,101.49 L511.15,100.57 L512.15,99.66 L513.15,98.75 L514.15,97.84 L515.15,96.93 L516.15,96.02 L517.15,95.12 L518.15,94.21 L519.15,93.30 L520.15,92.40 L521.15,91.49 L522.15,90.59 L523.15,89.69 L524.15,88.79 L525.15,87.91 L526.15,87.05 L527.15,86.22 L528.15,85.39 L529.15,84.58 L530.15,83.78 L531.15,82.98 L532.15,82.18 L533.15,81.37 L534.15,80.55 L535.15,79.72 L536.15,78.88 L537.15,78.04 L538.15,77.20 L539.15,76.36 L540.15,75.52 L541.15,74.68 L542.15,73.85 L543.15,73.02 L544.15,72.18 L545.15,71.36 L546.15,70.53 L547.15,69.71 L548.15,68.90 L549.15,68.08 L550.15,67.28 L551.15,66.47 L552.15,65.67 L553.15,64.88 L554.15,64.08 L555.15,63.29 L556.15,62.51 L557.15,61.73 L558.15,60.95 L559.15,60.18 L560.15,59.41 L561.15,58.65 L562.15,57.90 L563.15,57.15 L564.15,56.41 L565.15,55.68 L566.15,54.96 L567.15,54.25 L568.15,53.54 L569.15,52.86 L570.15,52.20 L571.15,51.55 L572.15,50.92 L573.15,50.30 L574.15,49.68 L575.15,49.07 L576.15,48.45 L577.15,47.83 L578.15,47.20 L579.15,46.58 L580.15,45.98 L581.15,45.39 L582.15,44.81 L583.15,44.25 L584.15,43.70 L585.15,43.16 L586.15,42.59 L587.15,42.00 L588.15,41.40 L589.15,40.80 L590.15,40.22 L591.15,39.68 L592.15,39.17 L593.15,38.69 L594.15,38.22 L595.15,37.78 L596.15,37.36 L597.15,36.97 L598.15,36.62 L599.15,36.30 L600.15,36.01 L601.15,35.74 L602.15,35.50 L603.15,35.29 L604.15,35.11 L605.15,34.96 L606.15,34.85 L607.15,34.75 L608.15,34.69 L609.15,34.66 L610.15,34.65 L611.15,34.68 L612.15,34.74 L613.15,34.85 L614.15,34.99 L615.15,35.17 L616.15,35.38 L617.15,35.61 L618.15,35.85 L619.15,36.15 L620.15,36.50 L621.15,36.85 L622.15,37.19 L623.15,37.53 L624.15,37.87 L625.15,38.16 L626.15,38.36 L627.15,38.39 L628.15,38.29 L629.15,38.14 L630.15,38.00 L631.15,37.81 L632.00,37.65 L632.25,37.59 L632.50,37.55 L632.75,37.51 L633.00,37.47 L633.25,37.43 L633.50,37.41 L633.75,37.39 L634.00,37.37 L634.25,37.35 L634.50,37.32 L634.75,37.30 L635.00,37.28 L635.25,37.26 L635.50,37.24 L635.75,37.23 L636.00,37.21 L636.25,37.20 L636.50,37.19 L636.75,37.18 L637.00,37.17 L637.25,37.16 L637.50,37.16 L637.75,37.16 L638.00,37.16 L638.25,37.16 L638.50,37.16 L638.75,37.17 L639.00,37.18 L639.25,37.18 L639.50,37.19 L639.75,37.21 L640.00,37.22 L640.25,37.23 L640.50,37.24 L640.75,37.26 L641.00,37.27 L641.25,37.28 L641.50,37.30 L641.75,37.31 L642.00,37.32 L642.25,37.32 L642.50,37.32 L642.75,37.31 L643.00,37.30 L643.25,37.29 L643.50,37.28 L643.75,37.26 L644.00,37.24 L644.25,37.22 L644.50,37.20 L644.75,37.18 L645.00,37.15 L645.25,37.13 L645.50,37.10 L645.75,37.08 L646.00,37.05 L646.25,37.02 L646.50,37.00 L646.75,36.97 L647.00,36.95 L647.25,36.93 L647.50,36.91 L647.75,36.89 L648.00,36.87 L648.25,36.86 L648.50,36.85 L648.75,36.84 L649.00,36.84 L649.25,36.84 L649.50,36.84 L649.75,36.85 L650.00,36.86 L650.25,36.87 L650.50,36.89 L650.75,36.91 L651.00,36.93 L651.25,36.95 L651.50,36.98 L651.75,37.00 L652.00,37.03 L652.25,37.06 L652.50,37.08 L652.75,37.11 L653.00,37.13 L653.25,37.16 L653.50,37.18 L653.75,37.19 L654.00,37.21 L654.25,37.22 L654.50,37.22 L654.75,37.22 L655.00,37.22 L655.25,37.21 L655.50,37.20 L655.75,37.19 L656.00,37.17 L656.25,37.15 L656.50,37.13 L656.75,37.10 L657.00,37.08 L657.25,37.05 L657.50,37.03 L657.75,37.00 L658.00,36.98 L658.25,36.95 L658.50,36.94 L658.75,36.92 L659.00,36.91 L659.25,36.90 L659.50,36.90 L659.75,36.91 L660.00,36.92 L660.25,36.93 L660.50,36.95 L660.75,36.97 L661.00,36.99 L661.25,37.01 L661.50,37.04 L661.75,37.07 L662.00,37.09 L662.25,37.12 L662.50,37.14 L662.75,37.16 L663.00,37.17 L663.25,37.18 L663.50,37.18 L663.75,37.17 L664.00,37.17 L664.25,37.15 L664.50,37.13 L664.75,37.11 L665.00,37.08 L665.25,37.06 L665.50,37.03 L665.75,37.01 L666.00,36.98 L666.25,36.96 L666.50,36.95 L666.75,36.94 L667.00,36.94 L667.25,36.94 L667.50,36.95 L667.75,36.97 L668.00,36.99 L668.25,37.01 L668.50,37.03 L668.75,37.06 L669.00,37.09 L669.25,37.11 L669.50,37.13 L669.75,37.14 L670.00,37.15 L670.25,37.15 L670.50,37.14 L670.75,37.13 L671.00,37.11 L671.25,37.09 L671.50,37.06 L671.75,37.04 L672.00,37.01 L672.25,36.99 L672.50,36.97 L672.75,36.96 L673.00,36.96 L673.25,36.96 L673.50,36.98 L673.75,36.99 L674.00,37.02 L674.25,37.04 L674.50,37.07 L674.75,37.10 L675.00,37.12 L675.25,37.13 L675.50,37.13 L675.75,37.13 L676.00,37.12 L676.25,37.10 L676.50,37.08 L676.75,37.05 L677.00,37.02 L677.25,37.00 L677.50,36.98 L677.75,36.97 L678.00,36.97 L678.25,36.98 L678.50,37.00 L678.75,37.02 L679.00,37.05 L679.25,37.07 L679.50,37.10 L679.75,37.11 L680.00,37.12 L680.25,37.12 L680.50,37.11 L680.75,37.09 L681.00,37.06 L681.25,37.04 L681.50,37.01 L681.75,36.99 L682.00,36.98 L682.25,36.99 L682.50,37.00 L682.75,37.02 L683.00,37.04 L683.25,37.07 L683.50,37.09 L683.75,37.11 L684.00,37.11 L684.25,37.11 L684.50,37.09 L684.75,37.07 L685.00,37.04 L685.25,37.01 L685.50,37.00 L685.75,36.99 L686.00,37.00 L686.25,37.01 L686.50,37.04 L686.75,37.06 L687.00,37.09 L687.25,37.10 L687.50,37.10 L687.75,37.09 L688.00,37.07 L688.25,37.05 L688.50,37.02 L688.75,37.00 L689.00,37.00 L689.25,37.00 L689.50,37.02 L689.75,37.05 L690.00,37.07 L690.25,37.09 L690.50,37.10 L690.75,37.09 L691.00,37.07 L691.25,37.05 L691.50,37.02 L691.75,37.01 L692.00,37.00 L692.25,37.02 L692.50,37.04 L692.75,37.06" stroke="#ff7f0e" stroke-width="1.95"/>
</g>
<g stroke="#000" stroke-width="2" fill="none">
<line x1="34.4" y1="403.0" x2="120.7" y2="291.5" stroke-dasharray="5.6 2.44"/>
<line x1="158.7" y1="264.75" x2="344.0" y2="205.3" stroke-dasharray="2.5 2.5 5.8 2.34"/>
<line x1="421.62" y1="155.04" x2="540.3" y2="40.55" stroke-dasharray="3 2.045"/>
<line x1="614.9" y1="21.45" x2="692.8" y2="21.45" stroke-dasharray="5.6 2.44" stroke-width="1.9"/>
</g>
<rect x="275.5" y="310.4" width="52.2" height="56.5" fill="#f4f4f4" stroke="#b8b8b8" stroke-width="1"/>
<rect x="309.35" y="321.50" width="7.6" height="7.95" fill="#1480ff" stroke="#0d6ee2" stroke-width="0.7"/>
<rect x="309.35" y="335.60" width="7.6" height="7.95" fill="#0b7d0b" stroke="#066806" stroke-width="0.7"/>
<rect x="309.35" y="349.70" width="7.6" height="7.95" fill="#ff7f0e" stroke="#e56d00" stroke-width="0.7"/>
<rect x="385" y="210.7" width="300" height="187.7" fill="#fff"/>
<line x1="443.1" y1="226.5" x2="443.1" y2="385.3" stroke="#dcdcdc" stroke-width="1"/>
<line x1="525.1" y1="226.5" x2="525.1" y2="385.3" stroke="#dcdcdc" stroke-width="1"/>
<line x1="634.6" y1="226.5" x2="634.6" y2="385.3" stroke="#dcdcdc" stroke-width="1"/>
<rect x="410.5" y="226.5" width="256.6" height="158.8" fill="none" stroke="#8a8a8a" stroke-width="1"/>
<line x1="415.65" y1="385.3" x2="415.65" y2="381.8" stroke="#9a9a9a" stroke-width="0.55"/>
<line x1="415.65" y1="226.5" x2="415.65" y2="230.0" stroke="#9a9a9a" stroke-width="0.6"/>
<line x1="443.00" y1="385.3" x2="443.00" y2="383.3" stroke="#9a9a9a" stroke-width="0.55"/>
<line x1="443.00" y1="226.5" x2="443.00" y2="228.5" stroke="#9a9a9a" stroke-width="0.6"/>
<line x1="470.35" y1="385.3" x2="470.35" y2="383.3" stroke="#9a9a9a" stroke-width="0.55"/>
<line x1="470.35" y1="226.5" x2="470.35" y2="228.5" stroke="#9a9a9a" stroke-width="0.6"/>
<line x1="497.70" y1="385.3" x2="497.70" y2="381.8" stroke="#9a9a9a" stroke-width="0.55"/>
<line x1="497.70" y1="226.5" x2="497.70" y2="230.0" stroke="#9a9a9a" stroke-width="0.6"/>
<line x1="525.05" y1="385.3" x2="525.05" y2="383.3" stroke="#9a9a9a" stroke-width="0.55"/>
<line x1="525.05" y1="226.5" x2="525.05" y2="228.5" stroke="#9a9a9a" stroke-width="0.6"/>
<line x1="552.40" y1="385.3" x2="552.40" y2="383.3" stroke="#9a9a9a" stroke-width="0.55"/>
<line x1="552.40" y1="226.5" x2="552.40" y2="228.5" stroke="#9a9a9a" stroke-width="0.6"/>
<line x1="579.75" y1="385.3" x2="579.75" y2="381.8" stroke="#9a9a9a" stroke-width="0.55"/>
<line x1="579.75" y1="226.5" x2="579.75" y2="230.0" stroke="#9a9a9a" stroke-width="0.6"/>
<line x1="607.10" y1="385.3" x2="607.10" y2="383.3" stroke="#9a9a9a" stroke-width="0.55"/>
<line x1="607.10" y1="226.5" x2="607.10" y2="228.5" stroke="#9a9a9a" stroke-width="0.6"/>
<line x1="634.45" y1="385.3" x2="634.45" y2="383.3" stroke="#9a9a9a" stroke-width="0.55"/>
<line x1="634.45" y1="226.5" x2="634.45" y2="228.5" stroke="#9a9a9a" stroke-width="0.6"/>
<line x1="661.80" y1="385.3" x2="661.80" y2="381.8" stroke="#9a9a9a" stroke-width="0.55"/>
<line x1="661.80" y1="226.5" x2="661.80" y2="230.0" stroke="#9a9a9a" stroke-width="0.6"/>
<line x1="411.0" y1="376.83" x2="412.5" y2="376.83" stroke="#a8a8a8" stroke-width="0.45"/>
<line x1="666.6" y1="376.83" x2="665.1" y2="376.83" stroke="#a8a8a8" stroke-width="0.45"/>
<line x1="411.0" y1="366.29" x2="412.5" y2="366.29" stroke="#a8a8a8" stroke-width="0.45"/>
<line x1="666.6" y1="366.29" x2="665.1" y2="366.29" stroke="#a8a8a8" stroke-width="0.45"/>
<line x1="411.0" y1="355.75" x2="412.5" y2="355.75" stroke="#a8a8a8" stroke-width="0.45"/>
<line x1="666.6" y1="355.75" x2="665.1" y2="355.75" stroke="#a8a8a8" stroke-width="0.45"/>
<line x1="411.0" y1="345.21" x2="414.0" y2="345.21" stroke="#a8a8a8" stroke-width="0.45"/>
<line x1="666.6" y1="345.21" x2="663.6" y2="345.21" stroke="#a8a8a8" stroke-width="0.45"/>
<line x1="411.0" y1="334.67" x2="412.5" y2="334.67" stroke="#a8a8a8" stroke-width="0.45"/>
<line x1="666.6" y1="334.67" x2="665.1" y2="334.67" stroke="#a8a8a8" stroke-width="0.45"/>
<line x1="411.0" y1="324.13" x2="412.5" y2="324.13" stroke="#a8a8a8" stroke-width="0.45"/>
<line x1="666.6" y1="324.13" x2="665.1" y2="324.13" stroke="#a8a8a8" stroke-width="0.45"/>
<line x1="411.0" y1="313.59" x2="412.5" y2="313.59" stroke="#a8a8a8" stroke-width="0.45"/>
<line x1="666.6" y1="313.59" x2="665.1" y2="313.59" stroke="#a8a8a8" stroke-width="0.45"/>
<line x1="411.0" y1="303.05" x2="414.0" y2="303.05" stroke="#a8a8a8" stroke-width="0.45"/>
<line x1="666.6" y1="303.05" x2="663.6" y2="303.05" stroke="#a8a8a8" stroke-width="0.45"/>
<line x1="411.0" y1="292.51" x2="412.5" y2="292.51" stroke="#a8a8a8" stroke-width="0.45"/>
<line x1="666.6" y1="292.51" x2="665.1" y2="292.51" stroke="#a8a8a8" stroke-width="0.45"/>
<line x1="411.0" y1="281.97" x2="412.5" y2="281.97" stroke="#a8a8a8" stroke-width="0.45"/>
<line x1="666.6" y1="281.97" x2="665.1" y2="281.97" stroke="#a8a8a8" stroke-width="0.45"/>
<line x1="411.0" y1="271.43" x2="412.5" y2="271.43" stroke="#a8a8a8" stroke-width="0.45"/>
<line x1="666.6" y1="271.43" x2="665.1" y2="271.43" stroke="#a8a8a8" stroke-width="0.45"/>
<line x1="411.0" y1="260.89" x2="414.0" y2="260.89" stroke="#a8a8a8" stroke-width="0.45"/>
<line x1="666.6" y1="260.89" x2="663.6" y2="260.89" stroke="#a8a8a8" stroke-width="0.45"/>
<line x1="411.0" y1="250.35" x2="412.5" y2="250.35" stroke="#a8a8a8" stroke-width="0.45"/>
<line x1="666.6" y1="250.35" x2="665.1" y2="250.35" stroke="#a8a8a8" stroke-width="0.45"/>
<line x1="411.0" y1="239.81" x2="412.5" y2="239.81" stroke="#a8a8a8" stroke-width="0.45"/>
<line x1="666.6" y1="239.81" x2="665.1" y2="239.81" stroke="#a8a8a8" stroke-width="0.45"/>
<line x1="411.0" y1="229.27" x2="412.5" y2="229.27" stroke="#a8a8a8" stroke-width="0.45"/>
<line x1="666.6" y1="229.27" x2="665.1" y2="229.27" stroke="#a8a8a8" stroke-width="0.45"/>
<path d="M442.5,234.0 L525.1,313.7 L634.7,377.3" fill="none" stroke="#5e81b5" stroke-width="1.7" stroke-linejoin="round"/>
</svg>
<div class="t" style="font-size:10px;top:426.90px;transform:scale(0.89,0.93);left:18.60px;text-align:left;transform-origin:0 0;">1.<span class="x">×</span>10<span class="sup">−6</span></div>
<div class="t" style="font-size:10px;top:426.90px;transform:scale(0.89,0.93);left:0.31px;width:200px;text-align:center;transform-origin:50% 0;">0.00001</div>
<div class="t" style="font-size:10px;top:426.90px;transform:scale(0.89,0.93);left:66.02px;width:200px;text-align:center;transform-origin:50% 0;">0.0001</div>
<div class="t" style="font-size:10px;top:426.90px;transform:scale(0.89,0.93);left:131.73px;width:200px;text-align:center;transform-origin:50% 0;">0.001</div>
<div class="t" style="font-size:10px;top:426.90px;transform:scale(0.89,0.93);left:197.44px;width:200px;text-align:center;transform-origin:50% 0;">0.01</div>
<div class="t" style="font-size:10px;top:426.90px;transform:scale(0.89,0.93);left:263.15px;width:200px;text-align:center;transform-origin:50% 0;">0.1</div>
<div class="t" style="font-size:10px;top:426.90px;transform:scale(0.89,0.93);left:328.86px;width:200px;text-align:center;transform-origin:50% 0;">1.</div>
<div class="t" style="font-size:10px;top:426.90px;transform:scale(0.89,0.93);left:394.57px;width:200px;text-align:center;transform-origin:50% 0;">10.</div>
<div class="t" style="font-size:10px;top:426.90px;transform:scale(0.89,0.93);left:460.28px;width:200px;text-align:center;transform-origin:50% 0;">100.</div>
<div class="t" style="font-size:10px;top:426.90px;transform:scale(0.89,0.93);left:525.99px;width:200px;text-align:center;transform-origin:50% 0;">1000.</div>
<div class="t" style="font-size:10px;top:426.90px;transform:scale(0.89,0.93);left:504.80px;width:200px;text-align:right;transform-origin:100% 0;">10<span style="margin-left:1.9px"></span>000.</div>
<div class="t" style="font-size:10px;top:5.00px;transform:scale(0.89,0.93);left:-181.80px;width:200px;text-align:right;transform-origin:100% 0;">10<span class="sup">5</span></div>
<div class="t" style="font-size:10px;top:131.90px;transform:scale(0.89,0.93);left:-181.80px;width:200px;text-align:right;transform-origin:100% 0;">100</div>
<div class="t" style="font-size:10px;top:258.80px;transform:scale(0.89,0.93);left:-181.80px;width:200px;text-align:right;transform-origin:100% 0;">0.1</div>
<div class="t" style="font-size:10px;top:385.00px;transform:scale(0.89,0.93);left:-181.80px;width:200px;text-align:right;transform-origin:100% 0;">10<span class="sup">−4</span></div>
<div class="t" style="font-size:10px;top:319.04px;transform:scale(0.97,0.96);left:284.70px;text-align:left;transform-origin:0 0;">d=1</div>
<div class="t" style="font-size:10px;top:332.94px;transform:scale(0.97,0.96);left:284.70px;text-align:left;transform-origin:0 0;">d=2</div>
<div class="t" style="font-size:10px;top:346.84px;transform:scale(0.97,0.96);left:284.70px;text-align:left;transform-origin:0 0;">d=3</div>
<div class="t" style="font-size:10px;top:212.50px;transform:scale(0.999,1);left:439.00px;width:200px;text-align:center;transform-origin:50% 0;letter-spacing:0.62px;">1&lt;<i>α</i>&lt;<i>β</i>&lt;3</div>
<div class="t" style="font-size:10px;top:256.59px;transform:scale(0.89,0.93);left:207.00px;width:200px;text-align:right;transform-origin:100% 0;">10<span class="sup">5</span></div>
<div class="t" style="font-size:10px;top:298.75px;transform:scale(0.89,0.93);left:207.00px;width:200px;text-align:right;transform-origin:100% 0;">10</div>
<div class="t" style="font-size:10px;top:340.91px;transform:scale(0.89,0.93);left:207.00px;width:200px;text-align:right;transform-origin:100% 0;">0.001</div>
<div class="t" style="font-size:10px;top:388.70px;transform:scale(0.89,0.93);left:316.15px;width:200px;text-align:center;transform-origin:50% 0;">10<span class="sup">−4</span></div>
<div class="t" style="font-size:10px;top:388.70px;transform:scale(0.89,0.93);left:397.70px;width:200px;text-align:center;transform-origin:50% 0;">0.1</div>
<div class="t" style="font-size:10px;top:388.70px;transform:scale(0.89,0.93);left:479.75px;width:200px;text-align:center;transform-origin:50% 0;">100</div>
<div class="t" style="font-size:10px;top:388.70px;transform:scale(0.89,0.93);left:562.30px;width:200px;text-align:center;transform-origin:50% 0;">10<span class="sup">5</span></div>
<div style="filter:grayscale(1);position:absolute;left:700px;top:430px;width:2px;height:2px"></div>
</div></body></html>
